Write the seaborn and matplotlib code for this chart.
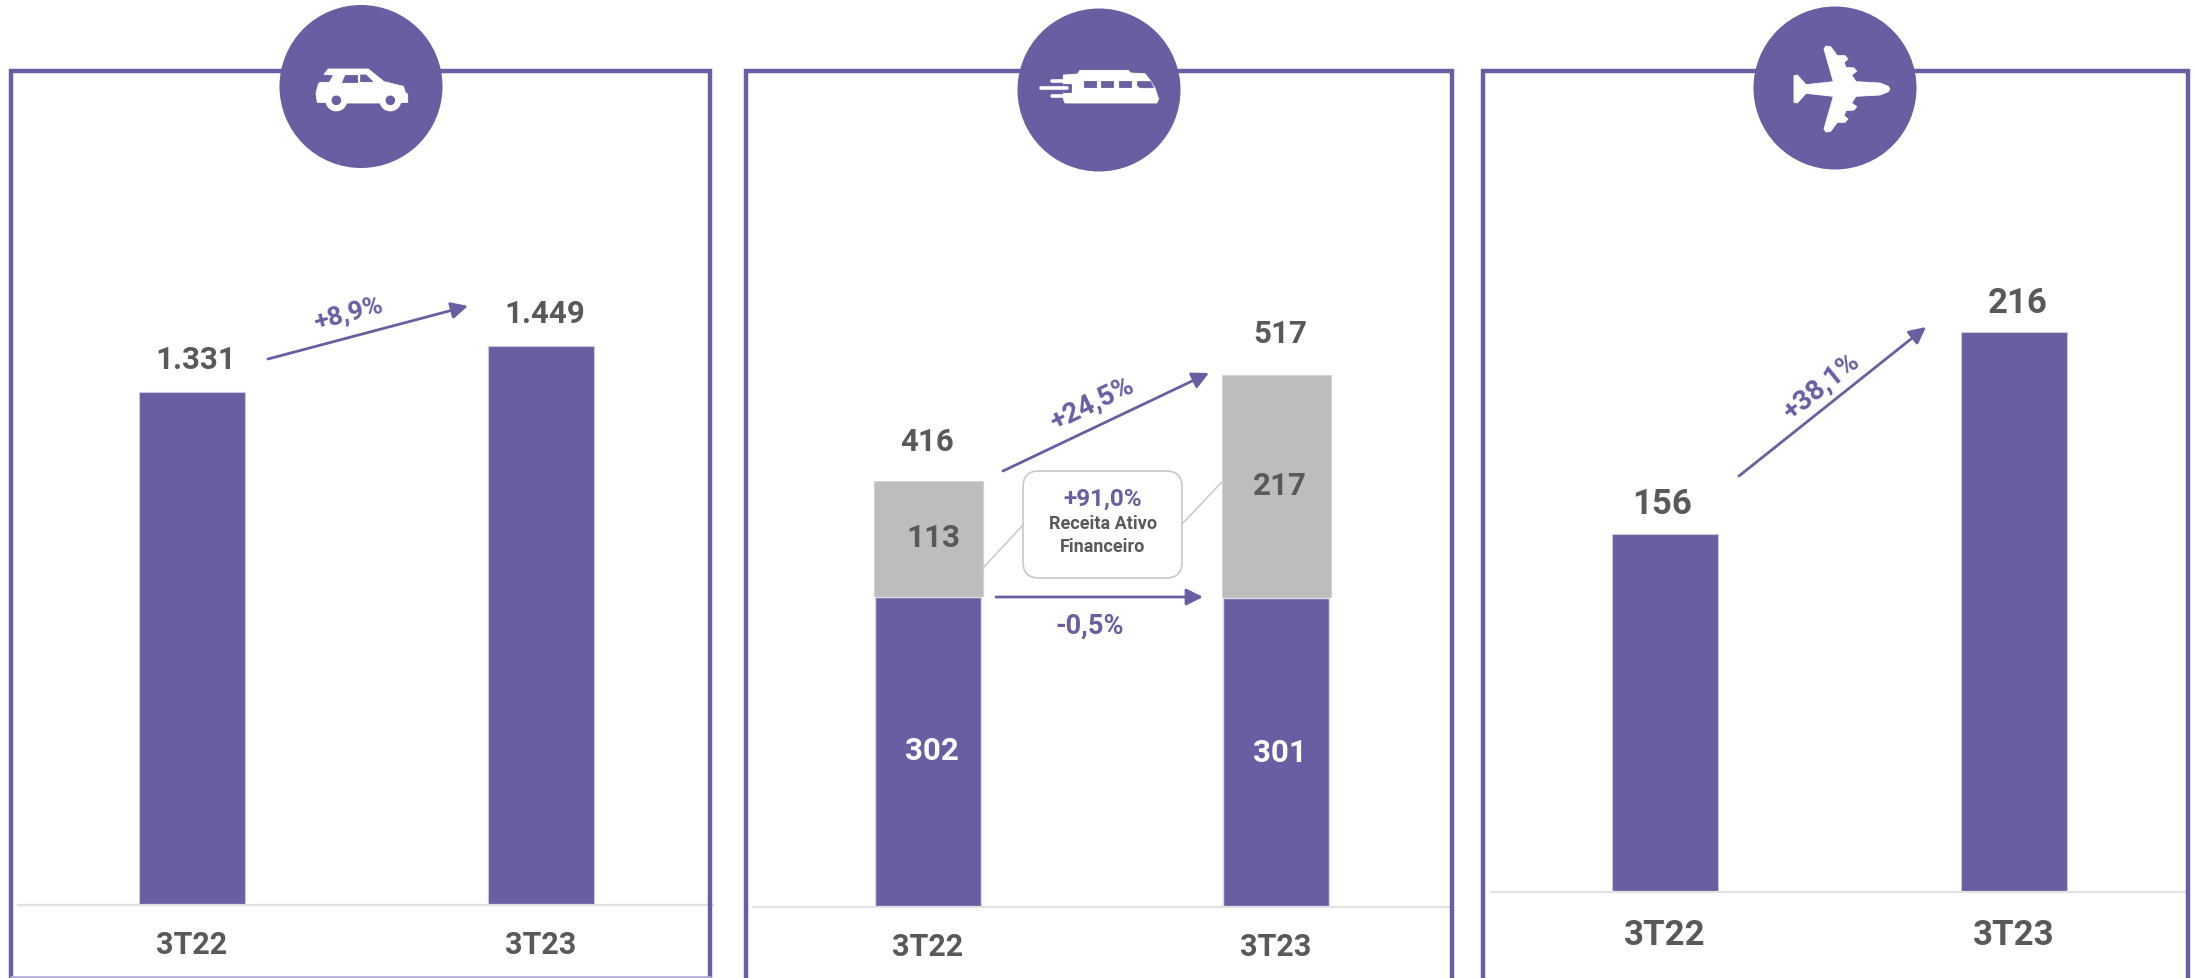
import numpy as np
import seaborn as sns
import matplotlib.pyplot as plt
from matplotlib.patches import Circle, FancyBboxPatch, Polygon

# valores
periodos = ["3T22", "3T23"]
auto = [1331, 1449]
auto_labels = ["1.331", "1.449"]
trem_base = [302, 301]
trem_ativo = [113, 217]
trem_total_labels = ["416", "517"]
aereo = [156, 216]
aereo_labels = ["156", "216"]

ROXO = "#6a5ea2"
CINZA = "#bdbdbd"
TEXTO = "#58595b"
W, H = 2195, 979

sns.set_theme(style="white")
plt.rcParams["font.family"] = ["Roboto", "DejaVu Sans"]
plt.rcParams["font.weight"] = "bold"

fig = plt.figure(figsize=(W / 100, H / 100), dpi=100, facecolor="white")


def painel(x0, x1, y_top, y_base):
    ax = fig.add_axes([x0 / W, 1 - y_base / H, (x1 - x0) / W, (y_base - y_top) / H])
    ax.set_facecolor("none")
    return ax


def arruma(ax, x0, x1, c0, c1, ymin, ymax, label_size, pad):
    esp = c1 - c0
    ax.set_xlim((x0 - c0) / esp, (x1 - c0) / esp)
    ax.set_ylim(ymin, ymax)
    ax.set(xlabel=None, ylabel=None, yticks=[])
    sns.despine(ax=ax, left=True)
    ax.spines["bottom"].set_color("#e2e2e2")
    ax.spines["bottom"].set_linewidth(1.6)
    ax.tick_params(axis="x", length=0, pad=pad, labelsize=label_size, labelcolor=TEXTO)


# automovel
ax1 = painel(18, 713, 72, 906)
sns.barplot(x=periodos, y=auto, color=ROXO, saturation=1, width=106 / 349,
            edgecolor="#c9c5df", linewidth=0.8, ax=ax1)
arruma(ax1, 18, 713, 192, 541, 0, 2162, 22, 17)

# trem: cinza com o total, branco para esconder a base, roxo por cima
ax2 = painel(753, 1452, 72, 908)
trem_total = list(np.array(trem_base) + np.array(trem_ativo))
sns.barplot(x=periodos, y=trem_total, color=CINZA, saturation=1, width=109 / 348,
            edgecolor="#d2d2d2", linewidth=0.8, ax=ax2)
sns.barplot(x=periodos, y=trem_base, color="white", saturation=1, width=112 / 348,
            linewidth=0, ax=ax2)
sns.barplot(x=periodos, y=trem_base, color=ROXO, saturation=1, width=106 / 348,
            edgecolor="#dcd9ec", linewidth=1.0, ax=ax2)
arruma(ax2, 753, 1452, 928, 1276, 0, 814, 22, 17)

# aereo: eixo nao comeca em zero, como na figura
ax3 = painel(1491, 2188, 72, 893)
sns.barplot(x=periodos, y=aereo, color=ROXO, saturation=1, width=106 / 349,
            edgecolor="#c9c5df", linewidth=0.8, ax=ax3)
arruma(ax3, 1491, 2188, 1665, 2014, 49.7, 293.5, 25, 19)

# camada em pixels para molduras, icones, setas e textos
ov = fig.add_axes([0, 0, 1, 1], zorder=5)
ov.set_xlim(0, W)
ov.set_ylim(H, 0)
ov.axis("off")
ov.patch.set_alpha(0)

for x0, x1 in [(11, 710), (746, 1452), (1483, 2188)]:
    ov.plot([x0, x0, x1, x1], [H + 5, 72, 72, H + 5], color=ROXO, lw=3.2, solid_joinstyle="miter")
ov.plot([11, 710], [978, 978], color="#b3acd6", lw=2)

for cx, cy in [(361, 87.5), (1099, 91), (1835, 89)]:
    ov.add_patch(Circle((cx, cy), 81.5, fc=ROXO, ec="none", zorder=3))


def zoom_pts(pts, ox):
    return [(ox + x / 3, y / 3) for x, y in pts]


def forma(pts, ox, cor="white", z=4):
    ov.add_patch(Polygon(zoom_pts(pts, ox), closed=True, fc=cor, ec=cor, lw=0.6,
                         joinstyle="round", zorder=z))


# carro
ox = 240
forma([(252, 226), (265, 210), (385, 210), (432, 248), (490, 262), (497, 283), (503, 285),
       (503, 310), (440, 312), (300, 312), (232, 310), (228, 283), (235, 255), (240, 250),
       (268, 250), (281, 228)], ox)
forma([(315, 228), (350, 228), (350, 248), (307, 248)], ox, ROXO, 5)
forma([(362, 228), (378, 228), (398, 248), (362, 248)], ox, ROXO, 5)
for xr in [289, 451]:
    ov.add_patch(Circle((ox + xr / 3, 304 / 3), 11, fc="white", ec="none", zorder=5))
    ov.add_patch(Circle((ox + xr / 3, 304 / 3), 4.8, fc=ROXO, ec="none", zorder=6))

# trem
ox = 980
forma([(250, 228), (293, 225), (300, 214), (445, 214), (452, 222), (495, 224), (512, 246),
       (525, 268), (536, 300), (530, 312), (255, 312), (250, 300)], ox)
forma([(473, 248), (512, 248), (520, 266), (480, 266), (472, 258)], ox, ROXO, 5)
for xj in [312, 364, 416]:
    forma([(xj, 246), (xj + 36, 246), (xj + 36, 265), (xj, 265)], ox, ROXO, 5)
forma([(248, 256), (272, 256), (272, 280), (248, 280)], ox, ROXO, 5)
ov.plot([ox + 215 / 3, ox + 272 / 3], [245 / 3, 245 / 3], color="white", lw=2.6,
        solid_capstyle="round", zorder=6)
ov.plot([ox + 183 / 3, ox + 260 / 3], [267 / 3, 267 / 3], color="white", lw=2.6,
        solid_capstyle="round", zorder=6)
ov.plot([ox + 215 / 3, ox + 260 / 3], [290 / 3, 290 / 3], color="white", lw=2.6,
        solid_capstyle="round", zorder=6)

# aviao, metade de cima espelhada em y=270
ox = 1720
meia = [(222, 230), (232, 228), (258, 257), (340, 248), (312, 150), (318, 141), (332, 143),
        (352, 170), (375, 170), (384, 180), (372, 190), (378, 205), (402, 207), (410, 217),
        (395, 228), (408, 248), (480, 252), (505, 262), (510, 270)]
forma(meia + [(x, 540 - y) for x, y in meia[-2::-1]], ox)


def seta(p0, p1):
    ov.annotate("", xy=p1, xytext=p0, zorder=6,
                arrowprops=dict(arrowstyle="-|>,head_length=1.0,head_width=0.5", mutation_scale=10,
                                color=ROXO, lw=2.0, shrinkA=0, shrinkB=0))


seta((268, 360), (468, 307))
seta((1003, 472), (1209, 374))
seta((996, 598), (1203, 598))
seta((1739, 477), (1926, 328))


def txt(x, y, s, size, cor=TEXTO, rot=0):
    ov.text(x, y + 2, s, fontsize=size, color=cor, rotation=rot, ha="center", va="center",
            rotation_mode="anchor", zorder=7)


txt(196, 358, auto_labels[0], 22.5)
txt(545, 312, auto_labels[1], 22.5)
txt(348, 311, "+8,9%", 19, ROXO, 15)

txt(927, 440, trem_total_labels[0], 22.5)
txt(1280, 332, trem_total_labels[1], 22.5)
txt(933, 536, str(trem_ativo[0]), 22.5)
txt(1280, 484, str(trem_ativo[1]), 22.5)
txt(932, 749, str(trem_base[0]), 22.5, "white")
txt(1280, 751, str(trem_base[1]), 22.5, "white")
txt(1092, 402, "+24,5%", 20, ROXO, 26)
txt(1090, 624, "-0,5%", 19.5, ROXO)

# caixa do ativo financeiro
ov.add_patch(FancyBboxPatch((1035, 484), 135, 83, boxstyle="round,pad=12,rounding_size=16",
                            fc="white", ec="#c8c8c8", lw=1.2, zorder=5))
ov.plot([983, 1023], [569, 526], color="#c8c8c8", lw=1.1, zorder=6)
ov.plot([1182, 1222], [525, 483], color="#c8c8c8", lw=1.1, zorder=6)
txt(1103, 497, "+91,0%", 17.5, ROXO)
txt(1103, 522, "Receita Ativo", 13)
txt(1103, 545, "Financeiro", 13)

txt(1662, 503, aereo_labels[0], 25)
txt(2018, 302, aereo_labels[1], 25)
txt(1821, 385, "+38,1%", 20, ROXO, 39)

fig.savefig("out.png", dpi=100, facecolor="white")
